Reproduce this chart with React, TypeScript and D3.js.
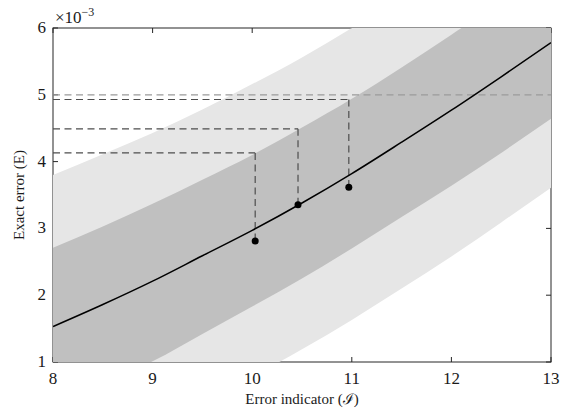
import React from "react";
import * as d3 from "d3";

// Error indicator grid (I)
const gridI = [8, 8.5, 9, 9.5, 10, 10.5, 11, 11.5, 12, 12.5, 13];
// Fitted curve (×10^-3)
const curveE = [1.53, 1.86, 2.21, 2.59, 2.97, 3.38, 3.82, 4.29, 4.77, 5.27, 5.78];
// Inner (dark) band
const darkUpper = [2.71, 3.03, 3.37, 3.73, 4.1, 4.51, 4.94, 5.41, 5.9, 6.4, 6.9];
const darkLower = [0.35, 0.69, 1.01, 1.42, 1.83, 2.25, 2.7, 3.17, 3.64, 4.13, 4.64];
// Outer (light) band
const lightUpper = [3.8, 4.11, 4.43, 4.78, 5.16, 5.56, 6.0, 6.47, 6.95, 7.45, 7.95];
const lightLower = [-0.74, -0.36, 0.0, 0.39, 0.78, 1.19, 1.63, 2.1, 2.58, 3.09, 3.61];
// Observed points
const pointI = [10.03, 10.46, 10.97];
const pointE = [2.81, 3.355, 3.615];
const levelE = [4.13, 4.49, 4.93];
const refLevel = 5.0;

const xTicks = [8, 9, 10, 11, 12, 13];
const yTicks = [1, 2, 3, 4, 5, 6];

const W = 568;
const H = 416;
const L = 53, R = 551, T = 28, B = 362;

export default function App() {
  const x = d3.scaleLinear().domain([8, 13]).range([L, R]);
  const y = d3.scaleLinear().domain([1, 6]).range([B, T]);

  const band = (lo: number[], hi: number[]) =>
    d3
      .area<number>()
      .x((_, i) => x(gridI[i]))
      .y0((_, i) => y(lo[i]))
      .y1((_, i) => y(hi[i]))
      .curve(d3.curveMonotoneX)(gridI) || "";

  const line =
    d3
      .line<number>()
      .x((_, i) => x(gridI[i]))
      .y((d) => y(d))
      .curve(d3.curveMonotoneX)(curveE) || "";

  const font = "'Liberation Serif', 'DejaVu Serif', serif";
  const axisColor = "#262626";
  const tick = 5;

  return (
    <svg
      width={W}
      height={H}
      style={{ position: "absolute", left: 0, top: 0, background: "#fff" }}
      fontFamily={font}
    >
      <defs>
        <clipPath id="plot">
          <rect x={L} y={T} width={R - L} height={B - T} />
        </clipPath>
      </defs>

      {/* axes box and ticks */}
      <g stroke={axisColor} strokeWidth={1} fill="none">
        <rect x={L} y={T} width={R - L} height={B - T} />
        {xTicks.map((t) => (
          <g key={"xt" + t}>
            <line x1={x(t)} x2={x(t)} y1={B} y2={B - tick} />
            <line x1={x(t)} x2={x(t)} y1={T} y2={T + tick} />
          </g>
        ))}
        {yTicks.map((t) => (
          <g key={"yt" + t}>
            <line x1={L} x2={L + tick} y1={y(t)} y2={y(t)} />
            <line x1={R} x2={R - tick} y1={y(t)} y2={y(t)} />
          </g>
        ))}
      </g>

      {/* bands */}
      <g clipPath="url(#plot)">
        <path d={band(lightLower, lightUpper)} fill="#e6e6e6" />
        <path d={band(darkLower, darkUpper)} fill="#c0c0c0" />
      </g>

      {/* reference dashed line */}
      <line
        x1={x(8)}
        x2={x(13)}
        y1={y(refLevel)}
        y2={y(refLevel)}
        stroke="#9a9a9a"
        strokeWidth={1.2}
        strokeDasharray="7,4.5"
      />

      {/* level dashed lines */}
      {pointI.map((pi, i) => (
        <g key={"lv" + i} stroke="#4d4d4d" strokeWidth={1.2} strokeDasharray="7,4.5" fill="none">
          <line x1={x(8)} x2={x(pi)} y1={y(levelE[i])} y2={y(levelE[i])} />
          <line x1={x(pi)} x2={x(pi)} y1={y(levelE[i])} y2={y(pointE[i])} />
        </g>
      ))}

      {/* curve */}
      <path d={line} fill="none" stroke="#000" strokeWidth={1.5} clipPath="url(#plot)" />

      {/* points */}
      {pointI.map((pi, i) => (
        <circle key={"pt" + i} cx={x(pi)} cy={y(pointE[i])} r={3.5} fill="#000" />
      ))}

      {/* tick labels */}
      <g fontSize={17} fill="#1a1a1a">
        {xTicks.map((t) => (
          <text key={"xl" + t} x={x(t)} y={B + 22} textAnchor="middle">
            {t}
          </text>
        ))}
        {yTicks.map((t) => (
          <text key={"yl" + t} x={L - 7} y={y(t) + 5} textAnchor="end">
            {t}
          </text>
        ))}
      </g>

      {/* exponent */}
      <text x={L + 2} y={23} fontSize={17} fill="#1a1a1a">
        ×10
        <tspan dy={-7} fontSize={12}>
          −3
        </tspan>
      </text>

      {/* axis titles */}
      <text x={(L + R) / 2} y={404} textAnchor="middle" fontSize={15} fill="#1a1a1a">
        Error indicator (ℐ)
      </text>
      <text
        transform={`translate(24, ${(T + B) / 2}) rotate(-90)`}
        textAnchor="middle"
        fontSize={15}
        fill="#1a1a1a"
      >
        Exact error (E)
      </text>
    </svg>
  );
}
